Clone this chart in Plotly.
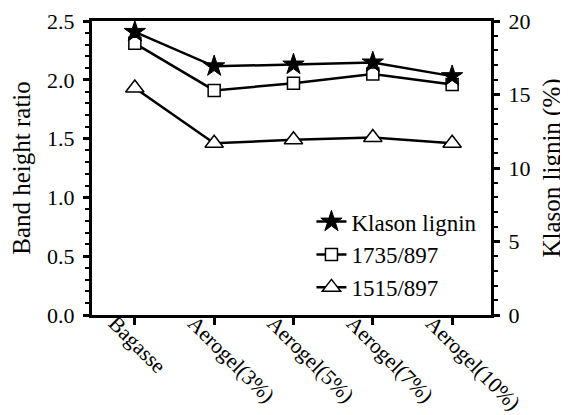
import plotly.graph_objects as go

categories = ["Bagasse", "Aerogel(3%)", "Aerogel(5%)", "Aerogel(7%)", "Aerogel(10%)"]
klason_lignin = [19.26, 16.92, 17.04, 17.18, 16.25]
ratio_1735_897 = [2.31, 1.91, 1.97, 2.05, 1.96]
ratio_1515_897 = [1.93, 1.46, 1.49, 1.51, 1.46]

FONT = "Liberation Serif"
BLACK = "black"

fig = go.Figure()
fig.add_trace(go.Scatter(
    x=categories, y=klason_lignin, name="Klason lignin", yaxis="y2",
    mode="lines+markers", line=dict(color=BLACK, width=2.5),
    marker=dict(symbol="star", size=16, color=BLACK, line=dict(color=BLACK, width=1))))
fig.add_trace(go.Scatter(
    x=categories, y=ratio_1735_897, name="1735/897",
    mode="lines+markers", line=dict(color=BLACK, width=2.5),
    marker=dict(symbol="square", size=12, color="white", line=dict(color=BLACK, width=1.5))))
fig.add_trace(go.Scatter(
    x=categories, y=ratio_1515_897, name="1515/897",
    mode="lines+markers", line=dict(color=BLACK, width=2.5),
    marker=dict(symbol="triangle-up", size=16, color="white", line=dict(color=BLACK, width=1.5))))

fig.update_layout(
    width=560, height=407,
    margin=dict(l=84, r=77, t=13, b=100),
    paper_bgcolor="white", plot_bgcolor="white",
    font=dict(family=FONT, size=22, color=BLACK),
    showlegend=True,
    legend=dict(x=0.55, y=0.02, xanchor="left", yanchor="bottom",
                font=dict(family=FONT, size=23, color=BLACK),
                bgcolor="rgba(0,0,0,0)", borderwidth=0, tracegroupgap=0),
    xaxis=dict(
        range=[-0.54, 4.49], showline=True, linecolor=BLACK, linewidth=3,
        mirror=True, ticks="outside", ticklen=7, tickwidth=2.5, tickcolor=BLACK,
        tickangle=45, showgrid=False, zeroline=False, automargin=False,
        ticklabelshift=-20, ticklabelstandoff=-23,
        tickfont=dict(family=FONT, size=21.5)),
    yaxis=dict(
        range=[0, 2.5], dtick=0.5, tickformat=".1f", showline=True, linecolor=BLACK,
        linewidth=3, mirror=True, ticks="outside", ticklen=6, tickwidth=2.5,
        tickcolor=BLACK, showgrid=False, zeroline=False, automargin=False,
        ticklabelstandoff=4,
        minor=dict(dtick=0.1, ticks="outside", ticklen=4, tickwidth=2, tickcolor=BLACK),
        title=dict(text="Band height ratio", font=dict(family=FONT, size=25), standoff=12),
        tickfont=dict(family=FONT, size=22)),
    yaxis2=dict(
        range=[0, 20], dtick=5, overlaying="y", side="right", showline=True,
        linecolor=BLACK, linewidth=3, ticks="outside", ticklen=6, tickwidth=2.5,
        tickcolor=BLACK, showgrid=False, zeroline=False, automargin=False,
        ticklabelstandoff=4,
        minor=dict(dtick=1, ticks="outside", ticklen=4, tickwidth=2, tickcolor=BLACK),
        title=dict(text="Klason lignin (%)", font=dict(family=FONT, size=25), standoff=14),
        tickfont=dict(family=FONT, size=22)),
)

fig.write_html("out.html")
